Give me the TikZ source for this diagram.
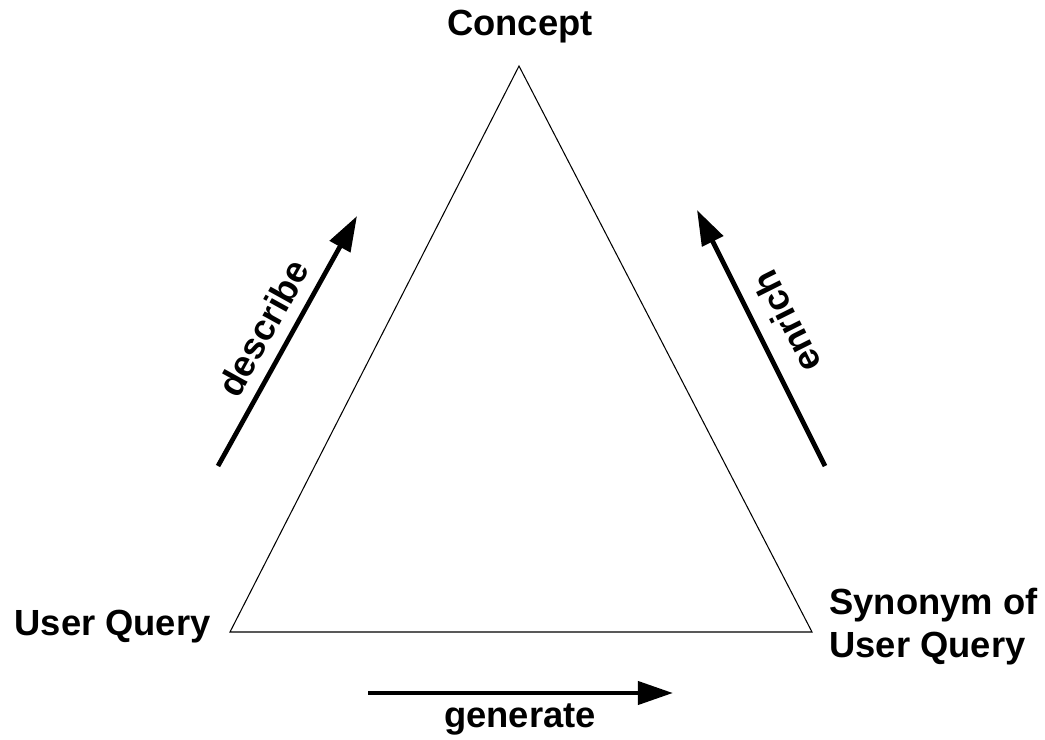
\documentclass[tikz,border=0pt]{standalone}
\usepackage{fontspec}
\setmainfont{Liberation Sans}
\usetikzlibrary{arrows.meta}
\begin{document}
\begin{tikzpicture}[x=0.02cm,y=-0.02cm,
  lbl/.style={font=\bfseries\fontsize{20.7}{24.5}\selectfont, inner sep=0pt},
  edge/.style={line width=0.6pt, line join=miter},
  flow/.style={line width=2.7pt, -{Triangle[length=20pt,width=13pt]}}]
  \useasboundingbox (0,0) rectangle (1045,740);
  % triangle corners
  \coordinate (top) at (519,66);
  \coordinate (bl) at (230,632);
  \coordinate (br) at (812,632);
  \draw[edge] (top) -- (bl) -- (br) -- cycle;
  % vertex labels
  \node[lbl] (concept) at (520,27) {Concept};
  \node[lbl, anchor=east] (query) at (211,627) {User Query};
  \node[lbl, anchor=west, align=left] (syn) at (829,627) {Synonym of\\User Query};
  % relation arrows
  \coordinate (d1) at (218,466);
  \coordinate (d2) at (357,216);
  \coordinate (e1) at (825,466);
  \coordinate (e2) at (697,210);
  \coordinate (g1) at (368,693);
  \coordinate (g2) at (673,693);
  \draw[flow] (d1) -- (d2);
  \draw[flow] (e1) -- (e2);
  \draw[flow] (g1) -- (g2);
  % relation labels
  \node[lbl, rotate=61] (describe) at (263,328) {describe};
  \node[lbl, rotate=116.6] (enrich) at (786,322) {enrich};
  \node[lbl] (generate) at (520,719) {generate};
\end{tikzpicture}
\end{document}
